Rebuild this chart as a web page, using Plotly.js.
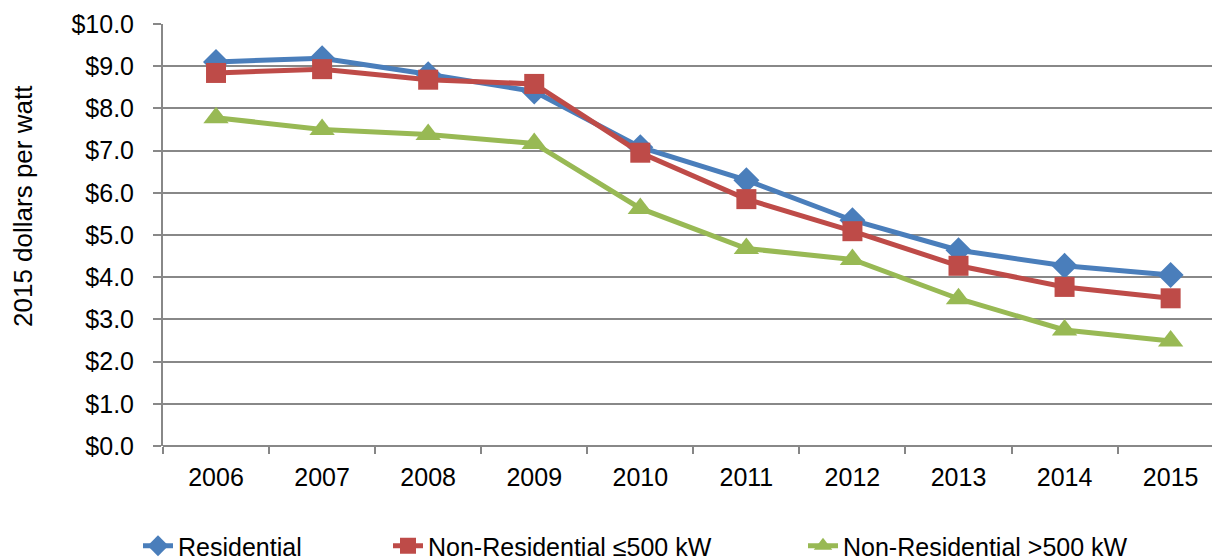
<!DOCTYPE html>
<html>
<head>
<meta charset="utf-8">
<script src="https://cdn.plot.ly/plotly-3.0.1.min.js"></script>
<style>html,body{margin:0;padding:0;background:#fff;}#chart{width:1212px;height:559px;}</style>
</head>
<body>
<div id="chart"></div>
<script>
const years = ["2006","2007","2008","2009","2010","2011","2012","2013","2014","2015"];
const residential = [9.10, 9.19, 8.81, 8.40, 7.08, 6.30, 5.35, 4.64, 4.27, 4.05];
const nonResSmall = [8.84, 8.93, 8.68, 8.58, 6.95, 5.85, 5.09, 4.27, 3.77, 3.50];
const nonResLarge = [7.78, 7.50, 7.38, 7.17, 5.63, 4.68, 4.42, 3.49, 2.75, 2.49];
const yTickVals = [0,1,2,3,4,5,6,7,8,9,10];
const yTickText = ["$0.0","$1.0","$2.0","$3.0","$4.0","$5.0","$6.0","$7.0","$8.0","$9.0","$10.0"];
const yTitle = "2015 dollars per watt";

const font = "Liberation Sans, Arial, sans-serif";
const traces = [
  {x: years, y: residential, name: "Residential", type: "scatter", mode: "lines+markers",
   line: {color: "#4A7EBB", width: 5}, marker: {symbol: "diamond", size: 20, color: "#4A7EBB"}, legend: "legend"},
  {x: years, y: nonResSmall, name: "Non-Residential ≤500 kW", type: "scatter", mode: "lines+markers",
   line: {color: "#BE4B48", width: 5}, marker: {symbol: "square", size: 20, color: "#BE4B48"}, legend: "legend2"},
  {x: years, y: nonResLarge, name: "Non-Residential >500 kW", type: "scatter", mode: "lines+markers",
   line: {color: "#98B954", width: 5}, marker: {symbol: "triangle-up", size: 22, color: "#98B954"}, legend: "legend3"}
];
const legBase = {orientation: "h", xref: "container", yref: "container", yanchor: "middle", y: 13/559,
  font: {family: font, size: 25, color: "#000"}, bgcolor: "rgba(0,0,0,0)", itemwidth: 30};
const layout = {
  width: 1212, height: 559,
  margin: {l: 163, r: 0, t: 24, b: 113},
  paper_bgcolor: "#fff", plot_bgcolor: "#fff",
  font: {family: font, size: 25, color: "#000"},
  showlegend: true,
  legend: Object.assign({}, legBase, {x: 138/1212}),
  legend2: Object.assign({}, legBase, {x: 388/1212}),
  legend3: Object.assign({}, legBase, {x: 803/1212}),
  xaxis: {type: "category", range: [-0.5, 9.39], showgrid: false, showline: false, zeroline: false,
    ticks: "outside", tickson: "boundaries", ticklen: 7, tickwidth: 2, tickcolor: "#868686",
    tickfont: {family: font, size: 25, color: "#000"}, ticklabelstandoff: 14, fixedrange: true},
  yaxis: {range: [0, 10], tickvals: yTickVals, ticktext: yTickText, showgrid: true, gridcolor: "#888888", gridwidth: 2,
    showline: true, linecolor: "#888888", linewidth: 2, zeroline: true, zerolinecolor: "#888888", zerolinewidth: 2,
    ticks: "outside", ticklen: 8, tickwidth: 2, tickcolor: "#888888",
    tickfont: {family: font, size: 25, color: "#000"}, ticklabelstandoff: 14, fixedrange: true},
  annotations: [{text: yTitle, textangle: -90, xref: "paper", yref: "paper", x: (23-163)/1049, y: (446-206)/422,
    xanchor: "center", yanchor: "middle", showarrow: false, font: {family: font, size: 26, color: "#000"}}]
};
Plotly.newPlot("chart", traces, layout, {displayModeBar: false, staticPlot: true});
</script>
</body>
</html>
